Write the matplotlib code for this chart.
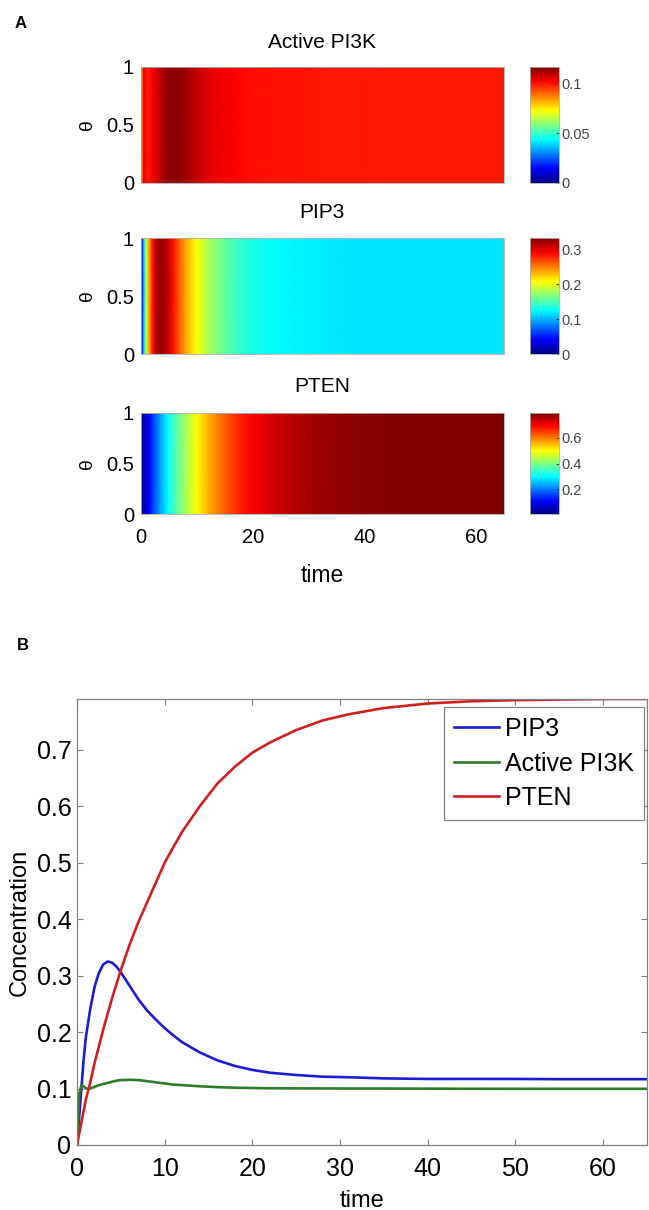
import numpy as np
import matplotlib
matplotlib.use("Agg")
import matplotlib.pyplot as plt
from matplotlib.colors import LinearSegmentedColormap

plt.rcParams['font.family'] = ['Liberation Sans', 'DejaVu Sans']

# time points
time_pts = [0, 0.25, 0.5, 0.75, 1, 1.5, 2, 2.5, 3, 3.5, 4, 4.5, 5, 6, 7, 8, 9, 10,
            11, 12, 14, 16, 18, 20, 22, 25, 28, 31, 35, 40, 45, 50, 55, 60, 65]

pip3 = [0, 0.05, 0.10, 0.15, 0.19, 0.24, 0.28, 0.305, 0.32, 0.325,
        0.323, 0.316, 0.306, 0.282, 0.258, 0.238, 0.222, 0.207, 0.194, 0.182,
        0.164, 0.150, 0.140, 0.133, 0.128, 0.124, 0.121, 0.120, 0.118, 0.117,
        0.117, 0.117, 0.1166, 0.1166, 0.1166]
pi3k = [0, 0.09, 0.106, 0.104, 0.100, 0.100, 0.103, 0.106, 0.108, 0.110,
        0.112, 0.114, 0.115, 0.1155, 0.115, 0.113, 0.111, 0.109, 0.107, 0.106,
        0.104, 0.1025, 0.1015, 0.101, 0.1005, 0.1003, 0.1002, 0.1, 0.1, 0.0998,
        0.0996, 0.0995, 0.0995, 0.0995, 0.0995]
pten = [0, 0.02, 0.04, 0.06, 0.08, 0.11, 0.145, 0.175, 0.205, 0.233,
        0.26, 0.285, 0.31, 0.355, 0.395, 0.43, 0.465, 0.50, 0.528, 0.555,
        0.60, 0.64, 0.67, 0.695, 0.713, 0.735, 0.752, 0.763, 0.774, 0.782,
        0.786, 0.788, 0.789, 0.79, 0.79]

theta = [0, 1]

heat_titles = ["Active PI3K", "PIP3", "PTEN"]
heat_series = [pi3k, pip3, pten]
heat_ranges = [(0, 0.117), (0, 0.333), (0.01, 0.79)]
heat_cticks = [[0, 0.05, 0.1], [0, 0.1, 0.2, 0.3], [0.2, 0.4, 0.6]]
heat_ctick_labels = [["0", "0.05", "0.1"], ["0", "0.1", "0.2", "0.3"], ["0.2", "0.4", "0.6"]]

line_labels = ["PIP3", "Active PI3K", "PTEN"]
line_colors = ["#1c1cd6", "#2f7a2a", "#d01f1f"]

# matlab-style jet
mjet = LinearSegmentedColormap('mjet', {
    'red':   [(0, 0, 0), (0.375, 0, 0), (0.625, 1, 1), (0.875, 1, 1), (1, 0.5, 0.5)],
    'green': [(0, 0, 0), (0.125, 0, 0), (0.375, 1, 1), (0.625, 1, 1), (0.875, 0, 0), (1, 0, 0)],
    'blue':  [(0, 0.5, 0.5), (0.125, 1, 1), (0.375, 1, 1), (0.625, 0, 0), (1, 0, 0)],
}, N=256)

W, H = 649, 1210
fig = plt.figure(figsize=(W / 100, H / 100), dpi=100)

def px_axes(x0, y0, x1, y1):
    return fig.add_axes([x0 / W, 1 - y1 / H, (x1 - x0) / W, (y1 - y0) / H])

# panel A: heatmap rows (top, bottom in px)
rows = [(67, 183), (238, 354), (413, 514)]
title_y = [42, 212, 387]

tt = np.array(time_pts)
th = np.array(theta)
for i in range(3):
    y0, y1 = rows[i]
    ax = px_axes(141, y0, 504, y1)
    vals = np.array(heat_series[i])
    C = np.vstack([vals, vals])
    vmin, vmax = heat_ranges[i]
    im = ax.pcolormesh(tt, th, C, cmap=mjet, vmin=vmin, vmax=vmax, shading='gouraud')
    ax.set_xlim(0, 65)
    ax.set_ylim(0, 1)
    ax.set_yticks([0, 0.5, 1])
    ax.set_yticklabels(["0", "0.5", "1"])
    ax.tick_params(axis='both', length=0, labelsize=14.5, pad=5)
    ax.set_ylabel("θ", fontsize=14, labelpad=7)
    for s in ax.spines.values():
        s.set_color('#b0b0b0')
        s.set_linewidth(0.6)
    fig.text(322 / W, 1 - title_y[i] / H, heat_titles[i], ha='center', va='center', fontsize=15)
    if i == 2:
        ax.set_xticks([0, 20, 40, 60])
        ax.tick_params(axis='x', pad=10)
        ax.set_xlabel("time", fontsize=16.5, labelpad=12)
    else:
        ax.set_xticks([])
    cax = px_axes(530, y0, 559, y1)
    cb = fig.colorbar(im, cax=cax)
    cb.set_ticks(heat_cticks[i])
    cb.set_ticklabels(heat_ctick_labels[i])
    cb.ax.tick_params(labelsize=10.5, colors='#444444', length=2, direction='in', pad=2)
    cb.outline.set_edgecolor('#b0b0b0')
    cb.outline.set_linewidth(0.6)

fig.text(21 / W, 1 - 23 / H, "A", fontsize=12, fontweight='bold', ha='center', va='center')
fig.text(23 / W, 1 - 646 / H, "B", fontsize=12, fontweight='bold', ha='center', va='center')

# panel B: time courses
axb = px_axes(77, 699, 647, 1145)
for vals, lab, col in zip([pip3, pi3k, pten], line_labels, line_colors):
    axb.plot(time_pts, vals, color=col, lw=1.9, label=lab)
axb.set_xlim(0, 65)
axb.set_ylim(0, 0.79)
axb.set_xticks([0, 10, 20, 30, 40, 50, 60])
axb.set_yticks([0, 0.1, 0.2, 0.3, 0.4, 0.5, 0.6, 0.7])
axb.set_yticklabels(["0", "0.1", "0.2", "0.3", "0.4", "0.5", "0.6", "0.7"])
axb.tick_params(direction='in', top=True, right=True, length=4, width=0.8,
                color='#808080', labelsize=18)
axb.tick_params(axis='x', pad=9)
axb.tick_params(axis='y', pad=4)
for s in axb.spines.values():
    s.set_color('#808080')
    s.set_linewidth(0.9)
axb.set_xlabel("time", fontsize=17, labelpad=6)
axb.set_ylabel("Concentration", fontsize=17, labelpad=4)
leg = axb.legend(loc='upper right', bbox_to_anchor=(0.995, 0.982), borderaxespad=0,
                 fontsize=18, handlelength=1.8, handletextpad=0.25, labelspacing=0.42,
                 borderpad=0.4, fancybox=False, framealpha=1)
leg.get_frame().set_edgecolor('#808080')
leg.get_frame().set_linewidth(0.9)

fig.savefig("out.png", dpi=100)
